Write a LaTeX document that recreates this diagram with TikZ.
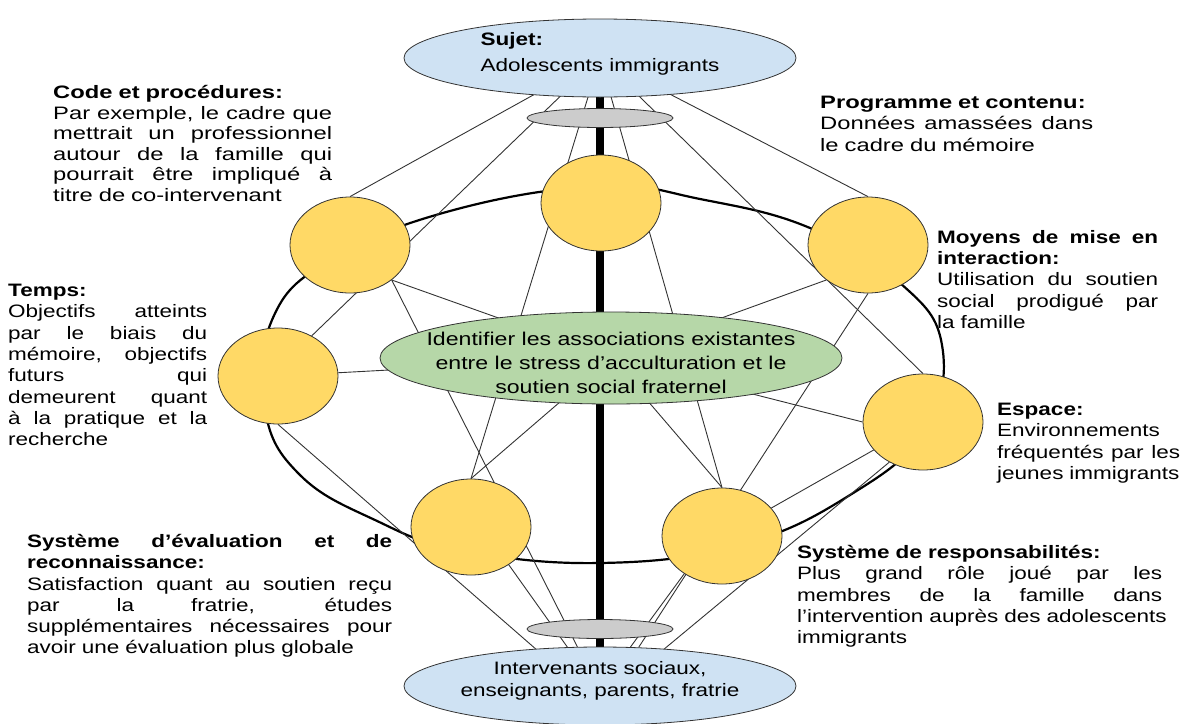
\documentclass[tikz,border=0pt]{standalone}
\usepackage{fontspec}
\setmainfont{Liberation Sans}[FakeStretch=1.25]
\newfontfamily\widefont{Liberation Sans}[FakeStretch=1.32]
\usetikzlibrary{shapes.geometric,backgrounds}

\definecolor{sujetBlue}{HTML}{CFE2F3}
\definecolor{ringGray}{HTML}{CCCCCC}
\definecolor{poleYellow}{HTML}{FFD966}
\definecolor{goalGreen}{HTML}{B6D7A8}
\definecolor{edgeDark}{HTML}{333333}

% one justified line of a text block
\newcommand{\jl}[1]{\makebox[\hsize][s]{\spaceskip=0pt\relax\xspaceskip=0pt\relax#1}}

\tikzset{
  pole/.style={ellipse,draw=edgeDark,line width=0.8pt,fill=poleYellow,
    minimum width=120pt,minimum height=96pt,inner sep=0pt},
  endnode/.style={ellipse,draw=edgeDark,line width=0.8pt,fill=sujetBlue,
    minimum width=392pt,minimum height=78pt,inner sep=0pt},
  ring/.style={ellipse,draw=edgeDark,line width=0.8pt,fill=ringGray,
    minimum width=146pt,minimum height=19pt,inner sep=0pt},
  goal/.style={ellipse,draw=edgeDark,line width=0.8pt,fill=goalGreen,
    minimum width=462pt,minimum height=92pt,inner sep=0pt},
  block/.style={text width=#1,align=left,inner sep=0pt,
    font=\fontsize{18}{21.3}\selectfont},
  link/.style={draw=edgeDark,line width=0.9pt},
  orbit/.style={draw=black,line width=2.2pt},
  spine/.style={draw=black,line width=8pt}
}

\begin{document}
\begin{tikzpicture}[x=1pt,y=-1pt]
\useasboundingbox (0,0) rectangle (1190,723);

% poles of the system
\node[endnode,label={[align=left,font=\fontsize{18}{26}\selectfont,yshift=4pt]center:\textbf{Sujet:}\\Adolescents immigrants}] (S) at (600,58) {};
\node[ring] (gT) at (600,118) {};
\node[ring] (gB) at (600,629) {};
\node[endnode,label={[align=center,font=\fontsize{18}{22.5}\selectfont,yshift=5pt]center:Intervenants sociaux,\\enseignants, parents, fratrie}] (C) at (600,686) {};

\node[pole] (c1) at (350,245) {};
\node[pole] (c2) at (601,203) {};
\node[pole] (c3) at (868,245) {};
\node[pole] (c4) at (278,376) {};
\node[pole] (c5) at (923,422) {};
\node[pole] (c6) at (471,527) {};
\node[pole] (c7) at (722,536) {};

\node[goal,label={[align=center,font=\fontsize{18.5}{24}\selectfont,yshift=-5pt]center:Identifier les associations existantes\\entre le stress d’acculturation et le\\soutien social fraternel}] (G) at (611,358) {};

% side texts
\node[block=279pt,anchor=north west,font=\widefont\fontsize{18}{20.6}\selectfont] (code) at (53,85)
  {\textbf{Code et procédures:}\\ \jl{Par exemple, le cadre que}\\
   \jl{mettrait un professionnel}\\ \jl{autour de la famille qui}\\
   \jl{pourrait être impliqué à}\\ \mbox{titre de co-intervenant}};
\node[block=199pt,anchor=north west] (temps) at (8,284)
  {\textbf{Temps:}\\ \jl{Objectifs atteints}\\ \jl{par le biais du}\\
   \jl{mémoire, objectifs}\\ \jl{futurs qui}\\ \jl{demeurent quant}\\
   \jl{à la pratique et la}\\ recherche};
\node[block=365pt,anchor=north west] (eval) at (27,534)
  {\jl{\textbf{Système d’évaluation et de}}\\ \textbf{reconnaissance:}\\
   \jl{Satisfaction quant au soutien reçu}\\ \jl{par la fratrie, études}\\
   \jl{supplémentaires nécessaires pour}\\ \mbox{avoir une évaluation plus globale}};
\node[block=273pt,anchor=north west,font=\widefont\fontsize{18}{21.3}\selectfont] (prog) at (820,96)
  {\textbf{Programme et contenu:}\\ \jl{Données amassées dans}\\ le cadre du mémoire};
\node[block=221pt,anchor=north west] (moyens) at (937,230)
  {\jl{\textbf{Moyens de mise en}}\\ \textbf{interaction:}\\
   \jl{Utilisation du soutien}\\ \jl{social prodigué par}\\ la famille};
\node[block=183pt,anchor=north west] (espace) at (997,403)
  {\textbf{Espace:}\\ Environnements\\ \jl{fréquentés par les}\\ \mbox{jeunes immigrants}};
\node[block=365pt,anchor=north west] (resp) at (797,545)
  {\textbf{Système de responsabilités:}\\ \jl{Plus grand rôle joué par les}\\
   \jl{membres de la famille dans}\\ \mbox{l’intervention auprès des adolescents}\\ immigrants};

\begin{scope}[on background layer]
  % closed ring through the yellow poles
  \draw[orbit] plot[smooth cycle,tension=0.7] coordinates {(600,186) (700,199)
    (810,228) (900,283) (942,345) (925,430) (850,495) (740,545) (600,563)
    (460,550) (375,520) (300,475) (265,410) (272,320) (330,260) (450,211)};
  \draw[spine] (S.center) -- (C.center);
  % links
  \draw[link] (S.center) -- (c1.north);
  \draw[link] (S.center) -- (c3.north);
  \draw[link] (S.center) -- (c4.50);
  \draw[link] (S.center) -- (c5.north);
  \draw[link] (S.center) -- (c6.north);
  \draw[link] (S.center) -- (c7.north);
  \draw[link] (c1.-40) -- (G.center);
  \draw[link] (c3.-140) -- (G.center);
  \draw[link] (c4.center) -- (G.center);
  \draw[link] (G.center) -- (c5.west);
  \draw[link] (G.center) -- (c6.north);
  \draw[link] (G.center) -- (c7.north);
  \draw[link] (c1.-40) -- (C.120);
  \draw[link] (c3.south) -- (C.45);
  \draw[link] (c4.south) -- (C.150);
  \draw[link] (c5.-130) -- (C.30);
  \draw[link] (c5.center) -- (c7.center);
  \draw[link] (c6.-45) -- (C.130);
  \draw[link] (c7.-135) -- (C.52);
\end{scope}
\end{tikzpicture}
\end{document}
